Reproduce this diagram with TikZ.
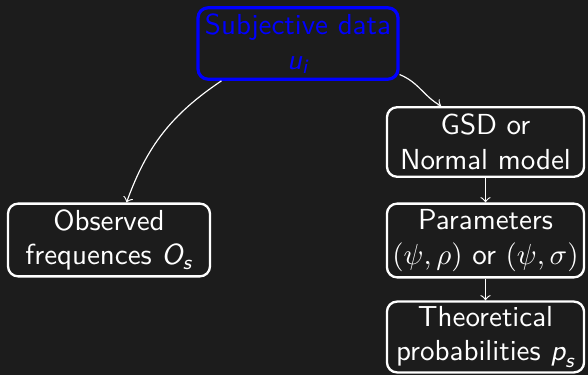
\documentclass[tikz,border=0pt]{standalone}
\usepackage{amsmath}
\usetikzlibrary{arrows}
\definecolor{bgdark}{RGB}{28,28,28}
\newcommand{\mvar}[1]{\textit{#1}}

\begin{document}
\begin{tikzpicture}[x=0.345pt, y=-0.345pt, font=\sffamily,
    box/.style={draw=white, text=white, line width=0.8pt, rounded corners=3.5pt,
      align=center, inner xsep=1pt, inner ysep=2pt, minimum height=24pt},
    subjbox/.style={box, draw=blue, text=blue, line width=1.1pt},
    conn/.style={->, white, thin}]
    % SFONDO
    \fill[bgdark] (0,0) rectangle (588,375);
    \useasboundingbox (0,0) rectangle (588,375);

    % 1. DATI (in alto)
    \node[subjbox, minimum width=69pt] (subj) at (298,43.5) {Subjective data\\$\mvar{u}_{\mvar{i}}$};

    % 2. FREQUENZE OSSERVATE (sinistra)
    \node[box, minimum width=69.7pt] (obs) at (109,240) {Observed\\frequences $\mvar{O}_{\mvar{s}}$};

    % 3. COLONNA DESTRA
    \node[box, minimum width=68pt, inner ysep=1pt] (model) at (485.5,142) {GSD or\\Normal model};
    \node[box, minimum width=68pt] (param) at (485.5,240.5) {Parameters\\$(\psi,\rho)$ or $(\psi,\sigma)$};
    \node[box, minimum width=68pt, inner ysep=1.5pt] (theo) at (485.5,337) {Theoretical\\probabilities $\mvar{p}_{\mvar{s}}$};

    % 4. FRECCE
    \draw[conn] (subj.206) to[out=214, in=70] (obs.65);
    \draw[conn] (subj.-17) to[out=-22, in=150] (model.141);
    \draw[conn] (model) -- (param);
    \draw[conn] (param) -- (theo);

\end{tikzpicture}
\end{document}
